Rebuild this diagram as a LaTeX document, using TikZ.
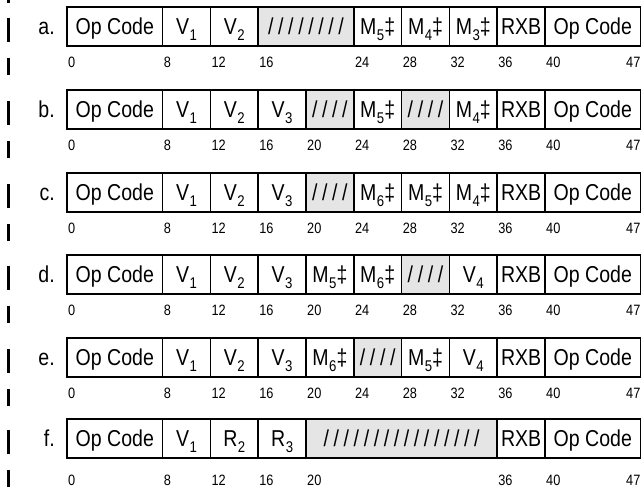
\documentclass[tikz,border=0pt]{standalone}
\usepackage{fontspec}
\setmainfont[FakeStretch=0.85]{Liberation Sans}
\usepackage{tikz}

\newcommand{\bitw}{11.95}
\newcommand{\fieldfont}{\fontsize{23}{23}\selectfont}
\newcommand{\bitfont}{\fontsize{15}{15}\selectfont}
\newcommand{\lo}[1]{\hspace{0.5pt}\raisebox{-6pt}{\fontsize{15.5}{15.5}\selectfont #1}}
\newcommand{\slashes}[1]{/\foreach \k in {2,...,#1}{\hspace{4.6pt}/}}
\colorlet{slashgray}{black!10}

\tikzset{
    field/.style={
        draw,
        line width=1.5pt,
        outer sep=0pt,
        inner sep=0pt,
        minimum width=#1*\bitw,
        minimum height=39pt,
        text height=16.5pt,
        text depth=0pt,
        anchor=west,
        font=\fieldfont
    }
}
\tikzset{
    rowlabel/.style={
        inner sep=0pt,
        text height=16.5pt,
        text depth=0pt,
        anchor=east,
        font=\fieldfont
    }
}
\tikzset{
    bitno/.style={
        inner sep=0pt,
        anchor=base west,
        font=\bitfont
    }
}
\tikzset{
    lastno/.style={
        inner sep=0pt,
        anchor=base east,
        font=\bitfont
    }
}
\tikzset{
    changebar/.style={
        line width=3pt
    }
}

\begin{document}
\begin{tikzpicture}[x=1pt, y=-1pt]

\useasboundingbox (0,0) rectangle (642,487);

% a.
\node[rowlabel] (la) at (55,26.5) {a.};
\foreach \b/\w/\fc/\txt [count=\i] in {0/8/white/Op Code, 8/4/white/V\lo{1}, 12/4/white/V\lo{2},
    16/8/slashgray/\slashes{8}, 24/4/white/M\lo{5}\ddag, 28/4/white/M\lo{4}\ddag,
    32/4/white/M\lo{3}\ddag, 36/4/white/RXB, 40/8/white/Op Code}{
    \node[field=\w, fill=\fc] (a\i) at (67+\b*\bitw,26.5) {\txt};
    \node[bitno] (na\i) at (68+\b*\bitw,67) {\b};
}
\node[lastno] (na) at (a9.east |- na1.base) {47};

% b.
\node[rowlabel] (lb) at (55,109.5) {b.};
\foreach \b/\w/\fc/\txt [count=\i] in {0/8/white/Op Code, 8/4/white/V\lo{1}, 12/4/white/V\lo{2},
    16/4/white/V\lo{3}, 20/4/slashgray/\slashes{4}, 24/4/white/M\lo{5}\ddag,
    28/4/slashgray/\slashes{4}, 32/4/white/M\lo{4}\ddag, 36/4/white/RXB, 40/8/white/Op Code}{
    \node[field=\w, fill=\fc] (b\i) at (67+\b*\bitw,109.5) {\txt};
    \node[bitno] (nb\i) at (68+\b*\bitw,150) {\b};
}
\node[lastno] (nb) at (b10.east |- nb1.base) {47};

% c.
\node[rowlabel] (lc) at (55,192.5) {c.};
\foreach \b/\w/\fc/\txt [count=\i] in {0/8/white/Op Code, 8/4/white/V\lo{1}, 12/4/white/V\lo{2},
    16/4/white/V\lo{3}, 20/4/slashgray/\slashes{4}, 24/4/white/M\lo{6}\ddag,
    28/4/white/M\lo{5}\ddag, 32/4/white/M\lo{4}\ddag, 36/4/white/RXB, 40/8/white/Op Code}{
    \node[field=\w, fill=\fc] (c\i) at (67+\b*\bitw,192.5) {\txt};
    \node[bitno] (nc\i) at (68+\b*\bitw,233) {\b};
}
\node[lastno] (nc) at (c10.east |- nc1.base) {47};

% d.
\node[rowlabel] (ld) at (55,274.5) {d.};
\foreach \b/\w/\fc/\txt [count=\i] in {0/8/white/Op Code, 8/4/white/V\lo{1}, 12/4/white/V\lo{2},
    16/4/white/V\lo{3}, 20/4/white/M\lo{5}\ddag, 24/4/white/M\lo{6}\ddag,
    28/4/slashgray/\slashes{4}, 32/4/white/V\lo{4}, 36/4/white/RXB, 40/8/white/Op Code}{
    \node[field=\w, fill=\fc] (d\i) at (67+\b*\bitw,274.5) {\txt};
    \node[bitno] (nd\i) at (68+\b*\bitw,315) {\b};
}
\node[lastno] (nd) at (d10.east |- nd1.base) {47};

% e.
\node[rowlabel] (le) at (55,357.5) {e.};
\foreach \b/\w/\fc/\txt [count=\i] in {0/8/white/Op Code, 8/4/white/V\lo{1}, 12/4/white/V\lo{2},
    16/4/white/V\lo{3}, 20/4/white/M\lo{6}\ddag, 24/4/slashgray/\slashes{4},
    28/4/white/M\lo{5}\ddag, 32/4/white/V\lo{4}, 36/4/white/RXB, 40/8/white/Op Code}{
    \node[field=\w, fill=\fc] (e\i) at (67+\b*\bitw,357.5) {\txt};
    \node[bitno] (ne\i) at (68+\b*\bitw,398) {\b};
}
\node[lastno] (ne) at (e10.east |- ne1.base) {47};

% f.
\node[rowlabel] (lf) at (55,438.5) {f.};
\foreach \b/\w/\fc/\txt [count=\i] in {0/8/white/Op Code, 8/4/white/V\lo{1}, 12/4/white/R\lo{2},
    16/4/white/R\lo{3}, 20/16/slashgray/\slashes{16}, 36/4/white/RXB, 40/8/white/Op Code}{
    \node[field=\w, fill=\fc] (f\i) at (67+\b*\bitw,438.5) {\txt};
    \node[bitno] (nf\i) at (68+\b*\bitw,485) {\b};
}
\node[lastno] (nf) at (f7.east |- nf1.base) {47};

% change bars
\draw[changebar] (8.5,0) -- (8.5,3);
\foreach \T in {7,90,173,255,338}{
    \draw[changebar] (8.5,\T+11) -- (8.5,\T+35);
    \draw[changebar] (8.5,\T+51) -- (8.5,\T+68);
}
\draw[changebar] (8.5,430) -- (8.5,454);
\draw[changebar] (8.5,470) -- (8.5,487);

\end{tikzpicture}
\end{document}
